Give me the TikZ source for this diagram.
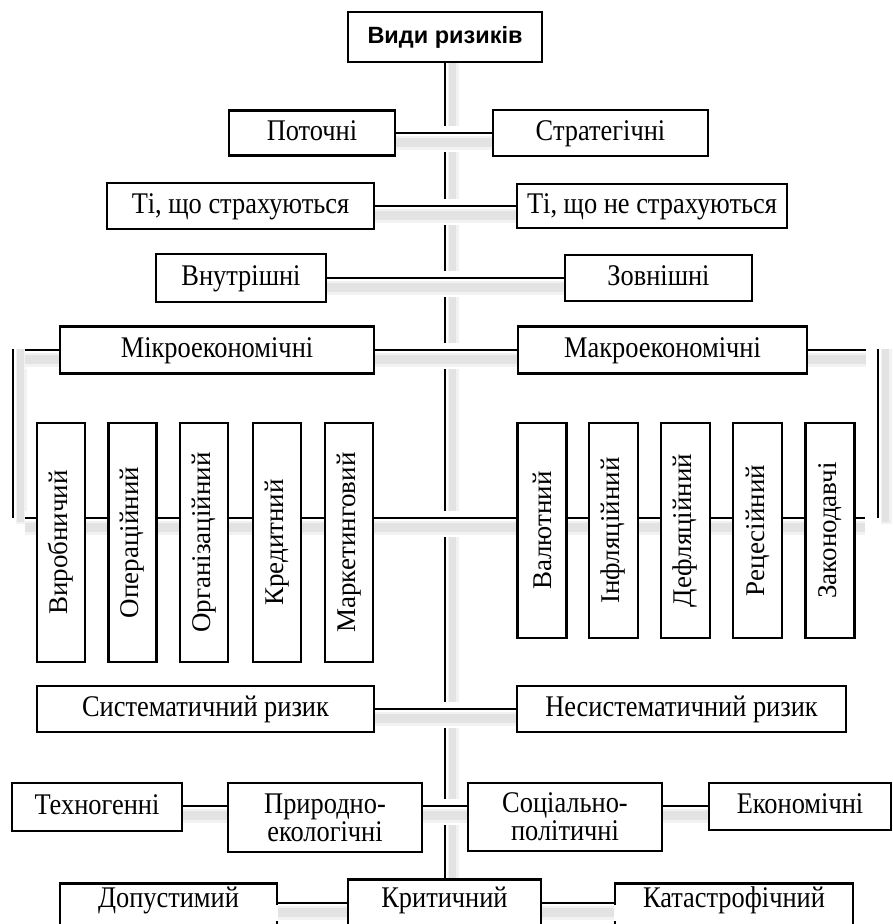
\documentclass[tikz,border=0pt]{standalone}
\usepackage{fontspec}
\usepackage{graphicx}
\setmainfont{Liberation Serif}
\newfontfamily\condserif[FakeStretch=0.88]{Liberation Serif}
\newfontfamily\titlesans{Liberation Sans}
\usetikzlibrary{calc}
\pgfdeclarelayer{lone}
\pgfdeclarelayer{ltwo}
\pgfdeclarelayer{lthree}
\pgfdeclarelayer{fg}
\pgfsetlayers{lone,ltwo,lthree,main,fg}

\tikzset{
  boxbase/.style={draw, line width=2.5pt, fill=white, inner sep=0pt, font=\condserif\fontsize{30}{27}\selectfont},
  box/.style={boxbase, text height=22pt, text depth=8pt},
  twoline/.style={boxbase, align=center, font=\condserif\fontsize{30}{28}\selectfont},
  vboxl/.style={draw, line width=2.5pt, fill=white, inner sep=0pt, minimum width=48pt, minimum height=239pt, font=\fontsize{27}{27}\selectfont},
  vboxr/.style={draw, line width=2.5pt, fill=white, inner sep=0pt, minimum width=49pt, minimum height=215pt, font=\fontsize{27}{27}\selectfont},
  conn/.style={line width=2.3pt},
  shadowout/.style={fill=black!5},
  shadowin/.style={fill=black!11},
}

\newcommand\myconn[3]{%
  \begin{pgfonlayer}{ltwo}
    \fill[white] ($(#1 |- #3)+(0,-7)$) rectangle ($(#2 |- #3)+(0,19)$);
  \end{pgfonlayer}
  \begin{pgfonlayer}{lthree}
    \fill[shadowout] ($(#1 |- #3)+(0,3)$) rectangle ($(#2 |- #3)+(0,17)$);
    \fill[shadowin] ($(#1 |- #3)+(0,5)$) rectangle ($(#2 |- #3)+(0,14)$);
    \draw[conn] (#1 |- #3) -- (#2 |- #3);
  \end{pgfonlayer}
}

\begin{document}
\begin{tikzpicture}[x=1pt,y=-1pt]
\useasboundingbox (0,0) rectangle (893,924);
\clip (0,0) rectangle (893,924);

% levels
\coordinate (h133) at (0,133);
\coordinate (h206) at (0,206);
\coordinate (h278) at (0,278);
\coordinate (h350) at (0,350);
\coordinate (h518) at (0,518);
\coordinate (h709) at (0,709);
\coordinate (h806) at (0,806);
\coordinate (h903) at (0,903);

% free line ends
\coordinate (m1l) at (25,350);
\coordinate (m1r) at (866,350);
\coordinate (v1l) at (25,518);
\coordinate (v1r) at (865,518);
\coordinate (bl1) at (13,349);
\coordinate (bl2) at (13,518);
\coordinate (br1) at (878,349);
\coordinate (br2) at (878,518);

% nodes
\node[draw, line width=2.5pt, fill=white, minimum width=194pt, minimum height=50pt, inner sep=0pt,
      font=\titlesans\bfseries\fontsize{23.5}{24}\selectfont] (title) at (445,37) {Види ризиків};

\node[box, minimum width=166pt, minimum height=45pt] (P1) at (312,133) {Поточні};
\node[box, minimum width=215pt, minimum height=46pt] (P2) at (600.5,133) {Стратегічні};
\node[box, minimum width=267pt, minimum height=46pt] (S1) at (240.5,206) {Ті, що страхуються};
\node[box, minimum width=270pt, minimum height=44pt] (S2) at (652,206) {Ті, що не страхуються};
\node[box, minimum width=170pt, minimum height=48pt] (I1) at (241,278) {Внутрішні};
\node[box, minimum width=187pt, minimum height=46pt] (I2) at (658.5,278) {Зовнішні};
\node[box, minimum width=314pt, minimum height=47pt] (M1) at (217,350) {Мікроекономічні};
\node[box, minimum width=289pt, minimum height=47pt] (M2) at (662.5,350) {Макроекономічні};

\node[vboxl] (V1) at (61,542.5) {\rotatebox{90}{Виробничий}};
\node[vboxl] (V2) at (132.5,542.5) {\rotatebox{90}{Операційний}};
\node[vboxl] (V3) at (204,542.5) {\rotatebox{90}{Організаційний}};
\node[vboxl] (V4) at (277,542.5) {\rotatebox{90}{Кредитний}};
\node[vboxl] (V5) at (349,542.5) {\rotatebox{90}{Маркетинговий}};

\node[vboxr] (W1) at (542,530.5) {\rotatebox{90}{Валютний}};
\node[vboxr] (W2) at (613.5,530.5) {\rotatebox{90}{Інфляційний}};
\node[vboxr] (W3) at (685.5,530.5) {\rotatebox{90}{Дефляційний}};
\node[vboxr] (W4) at (757.5,530.5) {\rotatebox{90}{Рецесійний}};
\node[vboxr] (W5) at (830,530.5) {\rotatebox{90}{Законодавчі}};

\node[box, minimum width=337pt, minimum height=46pt] (Y1) at (205.5,709) {Систематичний ризик};
\node[box, minimum width=329pt, minimum height=46pt] (Y2) at (681.5,709) {Несистематичний ризик};

\node[box, minimum width=170pt, minimum height=48pt] (T1) at (97,807) {Техногенні};
\node[twoline, minimum width=194pt, minimum height=69pt] (T2) at (325,817.5) {Природно-\\екологічні};
\node[twoline, minimum width=194pt, minimum height=68pt] (T3) at (565,817) {Соціально-\\політичні};
\node[box, minimum width=182pt, minimum height=47pt] (T4) at (800,806.5) {Економічні};

\node[boxbase, anchor=north, minimum width=217pt, text height=21pt, text depth=50pt, inner ysep=3pt] (D) at (168.5,882) {Допустимий};
\node[boxbase, anchor=north, minimum width=193pt, text height=25pt, text depth=50pt, inner ysep=3pt] (K) at (444.5,878) {Критичний};
\node[boxbase, anchor=north, minimum width=238pt, text height=21pt, text depth=50pt, inner ysep=3pt] (C) at (734,882) {Катастрофічний};

% spine and side brackets
\begin{pgfonlayer}{lone}
  \fill[shadowout] ($(title.south)+(3,0)$) rectangle ($(title.south |- K.north)+(14,0)$);
  \fill[shadowin] ($(title.south)+(4,0)$) rectangle ($(title.south |- K.north)+(11,0)$);
  \draw[conn] (title.south) -- (title.south |- K.north);
  \fill[shadowout] ($(bl1)+(3,0)$) rectangle ($(bl2)+(14,6)$);
  \fill[shadowin] ($(bl1)+(4,0)$) rectangle ($(bl2)+(11,4)$);
  \draw[conn] (bl1) -- (bl2);
  \fill[shadowout] ($(br1)+(3,0)$) rectangle ($(br2)+(14,6)$);
  \fill[shadowin] ($(br1)+(4,0)$) rectangle ($(br2)+(11,4)$);
  \draw[conn] (br1) -- (br2);
\end{pgfonlayer}

% connectors
\myconn{P1.east}{P2.west}{h133}
\myconn{S1.east}{S2.west}{h206}
\myconn{I1.east}{I2.west}{h278}
\myconn{m1l}{m1r}{h350}
\myconn{v1l}{v1r}{h518}
\myconn{Y1.east}{Y2.west}{h709}
\myconn{T1.east}{T2.west}{h806}
\myconn{T2.east}{T3.west}{h806}
\myconn{T3.east}{T4.west}{h806}

% bottom row connectors (they cut the edges of the outer boxes)
\begin{pgfonlayer}{fg}
  \fill[white] ($(D.east |- h903)+(-3.5,2)$) rectangle ($(K.west |- h903)+(0,18)$);
  \fill[shadowout] ($(D.east |- h903)+(0,3)$) rectangle ($(K.west |- h903)+(0,17)$);
  \fill[shadowin] ($(D.east |- h903)+(0,5)$) rectangle ($(K.west |- h903)+(0,14)$);
  \draw[conn] (D.east |- h903) -- (K.west |- h903);
  \fill[white] ($(K.east |- h903)+(0,2)$) rectangle ($(C.west |- h903)+(3.5,18)$);
  \fill[shadowout] ($(K.east |- h903)+(0,3)$) rectangle ($(C.west |- h903)+(0,17)$);
  \fill[shadowin] ($(K.east |- h903)+(0,5)$) rectangle ($(C.west |- h903)+(0,14)$);
  \draw[conn] (K.east |- h903) -- (C.west |- h903);
\end{pgfonlayer}
\end{tikzpicture}
\end{document}
